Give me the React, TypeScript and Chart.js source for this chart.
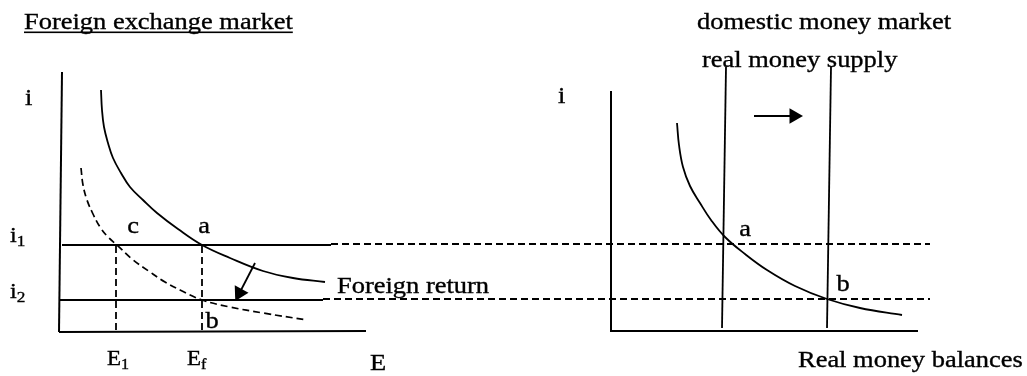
import React, { useEffect, useRef } from "react";
import { Chart, registerables } from "chart.js";

Chart.register(...registerables);

type P = { x: number; y: number };

// Diagram space: x 0..1027 (left→right), y 0..376 (top→bottom)
const leftYAxis: P[] = [{ x: 62, y: 72 }, { x: 59, y: 332 }];
const leftXAxis: P[] = [{ x: 59, y: 332 }, { x: 366, y: 331 }];
const rightYAxis: P[] = [{ x: 611, y: 91 }, { x: 611, y: 332 }];
const rightXAxis: P[] = [{ x: 611, y: 331 }, { x: 918, y: 331 }];

const rateI1Solid: P[] = [{ x: 62, y: 245 }, { x: 331, y: 245 }];
const rateI2Solid: P[] = [{ x: 59, y: 300 }, { x: 323, y: 300 }];
const rateI1Dashed: P[] = [{ x: 331, y: 244 }, { x: 930, y: 244 }];
const rateI2Dashed: P[] = [{ x: 323, y: 299 }, { x: 930, y: 299 }];
const dropE1: P[] = [{ x: 116, y: 246 }, { x: 116, y: 332 }];
const dropEf: P[] = [{ x: 202, y: 246 }, { x: 202, y: 332 }];

const foreignReturn: P[] = [
  { x: 101, y: 90 }, { x: 102, y: 110 }, { x: 104, y: 127 }, { x: 108, y: 143 },
  { x: 113, y: 158 }, { x: 121, y: 173 }, { x: 130, y: 187 }, { x: 143, y: 200 },
  { x: 157, y: 213 }, { x: 178, y: 229 }, { x: 202, y: 245 }, { x: 230, y: 258 },
  { x: 263, y: 271 }, { x: 293, y: 278 }, { x: 325, y: 282 },
];
const foreignReturnNew: P[] = [
  { x: 81, y: 168 }, { x: 83, y: 185 }, { x: 87, y: 200 }, { x: 93, y: 214 },
  { x: 100, y: 227 }, { x: 108, y: 237 }, { x: 117, y: 245 }, { x: 132, y: 259 },
  { x: 150, y: 272 }, { x: 165, y: 282 }, { x: 180, y: 290 }, { x: 202, y: 300 },
  { x: 230, y: 307 }, { x: 263, y: 313 }, { x: 307, y: 320 },
];
const moneyDemand: P[] = [
  { x: 677, y: 123 }, { x: 679, y: 145 }, { x: 683, y: 167 }, { x: 690, y: 186 },
  { x: 700, y: 203 }, { x: 711, y: 220 }, { x: 725, y: 237 }, { x: 745, y: 254 },
  { x: 767, y: 270 }, { x: 795, y: 286 }, { x: 827, y: 299 }, { x: 860, y: 308 },
  { x: 902, y: 315 },
];
const moneySupply1: P[] = [{ x: 726, y: 67 }, { x: 722, y: 328 }];
const moneySupply2: P[] = [{ x: 831, y: 67 }, { x: 827, y: 328 }];

const shiftArrowLeft: P[] = [{ x: 255, y: 263 }, { x: 239.5, y: 293 }];
const shiftArrowRight: P[] = [{ x: 754, y: 116 }, { x: 794, y: 116 }];
const arrowHeads: P[] = [{ x: 239.5, y: 293 }, { x: 794, y: 116 }];
const arrowRotations: number[] = [208, 90];

type Label = { text: string; sub?: string; x: number; y: number; size: number; align?: "left" | "center"; underline?: boolean };
const labels: Label[] = [
  { text: "Foreign exchange market", x: 24, y: 29, size: 23, underline: true },
  { text: "i", x: 25, y: 105, size: 23 },
  { text: "i", sub: "1", x: 10, y: 242, size: 21 },
  { text: "i", sub: "2", x: 10, y: 298, size: 21 },
  { text: "c", x: 133, y: 233, size: 23, align: "center" },
  { text: "a", x: 204, y: 233, size: 23, align: "center" },
  { text: "b", x: 212, y: 328, size: 23, align: "center" },
  { text: "E", sub: "1", x: 107, y: 365, size: 20 },
  { text: "E", sub: "f", x: 187, y: 365, size: 20 },
  { text: "E", x: 370, y: 370, size: 23 },
  { text: "Foreign return", x: 337, y: 293, size: 23 },
  { text: "domestic money market", x: 697, y: 29, size: 23 },
  { text: "real money supply", x: 702, y: 67, size: 23 },
  { text: "i", x: 558, y: 103, size: 23 },
  { text: "a", x: 745, y: 236, size: 23, align: "center" },
  { text: "b", x: 843, y: 291, size: 23, align: "center" },
  { text: "Real money balances", x: 798, y: 367, size: 23 },
];

const SX = 1.15;
const FONT = '"Liberation Serif", "Times New Roman", serif';

const labelPlugin = {
  id: "diagramLabels",
  afterDatasetsDraw(chart: any) {
    const ctx = chart.ctx as CanvasRenderingContext2D;
    const xs = chart.scales.x;
    const ys = chart.scales.y;
    ctx.save();
    ctx.fillStyle = "#000";
    ctx.strokeStyle = "#000";
    ctx.lineWidth = 0.35;
    ctx.textBaseline = "alphabetic";
    ctx.textAlign = "left";
    for (const l of labels) {
      const px = xs.getPixelForValue(l.x);
      const py = ys.getPixelForValue(l.y);
      ctx.font = `${l.size}px ${FONT}`;
      const w = ctx.measureText(l.text).width;
      let subW = 0;
      const subSize = Math.round(l.size * 0.72);
      if (l.sub) {
        ctx.font = `${subSize}px ${FONT}`;
        subW = ctx.measureText(l.sub).width;
      }
      const total = (w + subW) * SX;
      const left = l.align === "center" ? px - total / 2 : px;
      ctx.save();
      ctx.translate(left, py);
      ctx.scale(SX, 1);
      ctx.font = `${l.size}px ${FONT}`;
      ctx.fillText(l.text, 0, 0);
      ctx.strokeText(l.text, 0, 0);
      if (l.underline) ctx.fillRect(0, 2.5, w, 1.6);
      if (l.sub) {
        ctx.font = `${subSize}px ${FONT}`;
        ctx.fillText(l.sub, w, l.size * 0.2);
        ctx.strokeText(l.sub, w, l.size * 0.2);
      }
      ctx.restore();
    }
    ctx.restore();
  },
};

function line(data: P[], width = 2, dash: number[] = [], smooth = false) {
  return {
    data,
    borderColor: "#000",
    borderWidth: width,
    borderDash: dash,
    pointRadius: 0,
    fill: false,
    tension: smooth ? 0.4 : 0,
    clip: false,
    borderCapStyle: "butt",
  };
}

export default function App() {
  const ref = useRef<HTMLCanvasElement | null>(null);
  useEffect(() => {
    if (!ref.current) return;
    const DASH = [7, 4];
    const chart = new Chart(ref.current, {
      type: "line",
      data: {
        datasets: [
          line(leftYAxis),
          line(leftXAxis),
          line(rightYAxis),
          line(rightXAxis),
          line(rateI1Solid),
          line(rateI2Solid),
          line(rateI1Dashed, 1.8, DASH),
          line(rateI2Dashed, 1.8, DASH),
          line(dropE1, 1.8, DASH),
          line(dropEf, 1.8, DASH),
          line(foreignReturn, 1.8, [], true),
          line(foreignReturnNew, 1.7, DASH, true),
          line(moneyDemand, 1.8, [], true),
          line(moneySupply1, 1.8),
          line(moneySupply2, 1.8),
          line(shiftArrowLeft, 1.8),
          line(shiftArrowRight, 1.8),
          {
            data: arrowHeads,
            showLine: false,
            pointStyle: "triangle",
            pointRadius: 9,
            pointRotation: arrowRotations,
            pointBackgroundColor: "#000",
            pointBorderColor: "#000",
            pointBorderWidth: 0,
            clip: false,
          },
        ] as any,
      },
      options: {
        animation: false,
        responsive: false,
        maintainAspectRatio: false,
        devicePixelRatio: 1,
        layout: { padding: 0, autoPadding: false },
        events: [],
        plugins: { legend: { display: false }, tooltip: { enabled: false }, title: { display: false } },
        scales: {
          x: { type: "linear", min: 0, max: 1027, display: false },
          y: { type: "linear", min: 0, max: 376, reverse: true, display: false },
        },
      } as any,
      plugins: [labelPlugin],
    });
    return () => chart.destroy();
  }, []);
  return (
    <div style={{ position: "fixed", left: 0, top: 0, width: 1027, height: 376, background: "#fff" }}>
      <canvas ref={ref} width={1027} height={376} style={{ width: 1027, height: 376, display: "block" }} />
    </div>
  );
}
